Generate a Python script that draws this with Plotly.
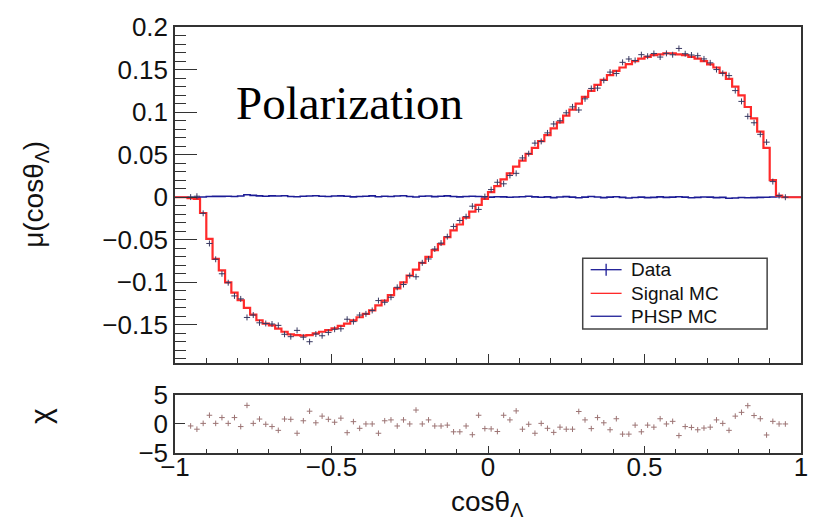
import numpy as np
import plotly.graph_objects as go

# ---------------- data ----------------
bin_centers = [round(-0.99 + 0.02 * i, 2) for i in range(100)]

signal_mc = [
    0.0, 0.0, -0.001, -0.002, -0.0185, -0.049, -0.0725, -0.086, -0.100, -0.112,
    -0.121, -0.130, -0.138, -0.1445, -0.1485, -0.1505, -0.1543, -0.158, -0.161, -0.162,
    -0.1625, -0.162, -0.160, -0.158, -0.156, -0.154, -0.151, -0.1485, -0.1447, -0.141,
    -0.137, -0.133, -0.127, -0.1215, -0.115, -0.107, -0.100, -0.092, -0.085, -0.077,
    -0.070, -0.062, -0.055, -0.047, -0.039, -0.032, -0.024, -0.017, -0.009, -0.002,
    0.006, 0.013, 0.021, 0.028, 0.036, 0.043, 0.051, 0.058, 0.066, 0.073,
    0.081, 0.088, 0.096, 0.103, 0.110, 0.118, 0.125, 0.132, 0.138, 0.1435,
    0.1485, 0.1524, 0.1563, 0.160, 0.1628, 0.165, 0.167, 0.1678, 0.169, 0.169,
    0.1678, 0.167, 0.165, 0.1628, 0.160, 0.156, 0.1524, 0.146, 0.139, 0.130,
    0.1196, 0.106, 0.0926, 0.077, 0.058, 0.020, 0.002, 0.0, 0.0, 0.0,
]

phsp_mc = [
    0.0, 0.0, 0.0, 0.0, 0.0003, 0.0008, 0.001, 0.001, 0.0012, 0.0009,
    0.0015, 0.003, 0.0022, 0.0016, 0.0012, 0.0016, 0.0014, 0.0018, 0.0009, 0.0006,
    0.0012, 0.0015, 0.0018, 0.0012, 0.0008, 0.0014, 0.0016, 0.0011, 0.0004, 0.0008,
    0.0012, 0.0016, 0.0006, 0.0012, 0.0009, 0.0015, 0.0018, 0.0008, 0.0003, 0.0011,
    0.0014, 0.0007, 0.0012, 0.0016, 0.0008, 0.0004, 0.0009, 0.0012, 0.0008, 0.0004,
    0.0002, 0.0006, 0.0004, 0.0, 0.0003, 0.0006, 0.0012, 0.0004, 0.0, 0.0004,
    -0.0004, 0.0003, 0.0007, 0.0001, -0.0006, 0.0002, 0.0008, 0.0003, -0.0004, 0.0002,
    0.0005, -0.0002, -0.0008, -0.0003, 0.0002, -0.0004, -0.0001, 0.0004, -0.0002, 0.0002,
    0.0006, 0.0002, -0.0006, -0.0001, 0.0003, 0.0001, -0.0005, -0.0002, -0.0012, -0.0008,
    -0.0003, -0.0006, -0.0004, -0.0002, 0.0, 0.0003, 0.0006, 0.0, 0.0, 0.0,
]

data_centers = bin_centers[2:98]
data_values = [
    0.0002, 0.0012, -0.0189, -0.0543, -0.0729, -0.0899, -0.1004, -0.1159, -0.1194, -0.1412,
    -0.1384, -0.1475, -0.1483, -0.1489, -0.1505, -0.161, -0.1638, -0.1564, -0.1644, -0.1697,
    -0.1607, -0.1627, -0.1588, -0.1551, -0.1545, -0.1433, -0.1461, -0.1384, -0.137, -0.133,
    -0.1214, -0.1234, -0.1175, -0.1058, -0.1025, -0.092, -0.0934, -0.077, -0.0725, -0.0608,
    -0.0538, -0.0463, -0.0343, -0.0273, -0.0228, -0.0105, -0.0143, 0.0008, 0.009, 0.0176,
    0.0158, 0.0256, 0.0281, 0.0462, 0.0512, 0.0636, 0.0656, 0.0756, 0.0861, 0.0899,
    0.0992, 0.1062, 0.1025, 0.1156, 0.1278, 0.1282, 0.1373, 0.147, 0.1454, 0.1585,
    0.1624, 0.1607, 0.1675, 0.1657, 0.1689, 0.1647, 0.169, 0.1674, 0.1748, 0.1686,
    0.1671, 0.1663, 0.1625, 0.1579, 0.15, 0.1456, 0.1429, 0.1253, 0.1126, 0.095,
    0.0875, 0.0739, 0.0647, 0.0184, 0.002, 0.0,
]
data_err = 0.0035

chi_values = [
    -0.34, -0.9, 0.1, 1.5, 0.1, 1.1, 0.1, 1.1, -0.45, 3.2,
    0.1, 0.85, -0.05, -0.45, -1.1, 0.85, 0.8, -1.6, 0.55, 2.2,
    0.2, 1.35, 0.8, 0.3, 1.0, -1.5, 0.4, -0.75, 0.0, 0.0,
    -1.6, 0.55, 0.7, -0.35, 0.7, 0.0, 2.4, 0.0, 0.7, -0.35,
    -0.35, -0.2, -1.35, -1.35, -0.35, -1.85, 1.5, -0.8, -0.85, -1.3,
    1.5, 0.7, 2.25, -0.9, -0.05, -1.6, 0.1, -0.75, -1.45, -0.55,
    -0.9, -0.9, 2.15, 0.7, -0.8, 1.1, 0.2, -1.0, 0.9, -1.75,
    -1.75, -0.2, -1.35, -0.2, -0.55, 0.9, 0.0, 0.45, -2.0, -0.45,
    -0.6, -1.0, -0.7, -0.55, 0.7, 0.1, -1.1, 1.35, 2.0, 3.15,
    1.45, 0.9, -1.9, 0.45, 0.0, 0.0,
]

x_ticks = [-1, -0.5, 0, 0.5, 1]
y_ticks_top = [-0.15, -0.1, -0.05, 0, 0.05, 0.1, 0.15, 0.2]
y_ticks_chi = [-5, 0, 5]

legend_labels = ["Data", "Signal MC", "PHSP MC"]

# ---------------- helpers ----------------
centers = np.array(bin_centers)
half = 0.01
edges = np.append(centers - half, centers[-1] + half)


def step_y(vals):
    v = np.array(vals)
    return np.append(v, v[-1])


FONT = "Liberation Sans, Arial, Helvetica, sans-serif"
AX = "#333333"
RED = "#ff2a2a"
BLUE = "#1c1c96"
DATA_COL = "#3a3a62"
CHI_COL = "#9c7474"

fig = go.Figure()

fig.add_trace(go.Scatter(
    x=edges, y=step_y(phsp_mc), mode="lines", line=dict(color=BLUE, width=1.6, shape="hv"),
    name="PHSP MC", showlegend=False, xaxis="x", yaxis="y"))
fig.add_trace(go.Scatter(
    x=edges, y=step_y(signal_mc), mode="lines", line=dict(color=RED, width=2.2, shape="hv"),
    name="Signal MC", showlegend=False, xaxis="x", yaxis="y"))
fig.add_trace(go.Scatter(
    x=data_centers, y=data_values, mode="markers",
    marker=dict(size=1, color=DATA_COL),
    error_x=dict(type="constant", value=half, thickness=1, width=0, color=DATA_COL),
    error_y=dict(type="constant", value=data_err, thickness=1, width=0, color=DATA_COL),
    name="Data", showlegend=False, xaxis="x", yaxis="y"))

# chi panel
fig.add_trace(go.Scatter(
    x=data_centers, y=chi_values, mode="markers",
    marker=dict(symbol="cross-thin", size=4, line=dict(color=CHI_COL, width=1)),
    showlegend=False, xaxis="x2", yaxis="y2"))

axis_common = dict(
    showline=True, linecolor=AX, linewidth=1.5, mirror=True,
    showgrid=False, zeroline=False,
    tickfont=dict(family=FONT, size=26, color="#111"),
    tickcolor=AX, ticks="inside",
)

# ---- manual legend box (paper coordinates) ----
lg_x0, lg_x1, lg_y0, lg_y1 = 0.6513, 0.9459, 0.291, 0.4573
row_y = [0.4303, 0.3748, 0.321]
sym_x0, sym_x1, sym_xc, txt_x = 0.664, 0.7134, 0.6887, 0.7245
legend_colors = [BLUE, RED, BLUE]

shapes = [dict(type="rect", xref="paper", yref="paper", x0=lg_x0, x1=lg_x1, y0=lg_y0, y1=lg_y1,
               line=dict(color="#444", width=1.5), fillcolor="white", layer="above")]
for ry, col in zip(row_y, legend_colors):
    shapes.append(dict(type="line", xref="paper", yref="paper", x0=sym_x0, x1=sym_x1, y0=ry, y1=ry,
                       line=dict(color=col, width=1.3), layer="above"))
shapes.append(dict(type="line", xref="paper", yref="paper", x0=sym_xc, x1=sym_xc,
                   y0=row_y[0] - 0.014, y1=row_y[0] + 0.014,
                   line=dict(color=BLUE, width=1.3), layer="above"))

annotations = [
    dict(text="Polarization", x=0.2787, y=0.822, xref="paper", yref="paper",
         xanchor="center", yanchor="middle", showarrow=False,
         font=dict(family="Liberation Serif, Times New Roman, serif", size=47, color="#000")),
    dict(text="μ(cosθ<sub>Λ</sub>)", x=-0.222, y=0.606, xref="paper", yref="paper",
         xanchor="center", yanchor="middle", showarrow=False, textangle=-90,
         font=dict(family=FONT, size=28, color="#111")),
    dict(text="χ", x=-0.215, y=0.0878, xref="paper", yref="paper",
         xanchor="center", yanchor="middle", showarrow=False, textangle=-90,
         font=dict(family=FONT, size=30, color="#111")),
    dict(text="cosθ<sub>Λ</sub>", x=0.498, y=-0.118, xref="paper", yref="paper",
         xanchor="center", yanchor="middle", showarrow=False,
         font=dict(family=FONT, size=28, color="#111")),
]
for ry, lab in zip(row_y, legend_labels):
    annotations.append(dict(text=lab, x=txt_x, y=ry, xref="paper", yref="paper",
                            xanchor="left", yanchor="middle", showarrow=False,
                            font=dict(family=FONT, size=19, color="#111")))

fig.update_layout(
    width=820, height=527,
    margin=dict(l=175, r=17, t=20, b=74),
    paper_bgcolor="white", plot_bgcolor="white",
    showlegend=False,
    xaxis=dict(domain=[0, 1], anchor="y", range=[-1, 1], tickvals=x_ticks,
               showticklabels=False, ticklen=9,
               minor=dict(dtick=0.1, tick0=0, ticklen=5, ticks="inside", tickcolor=AX),
               **axis_common),
    yaxis=dict(domain=[0.2113, 1], anchor="x", range=[-0.1947, 0.2], tickvals=y_ticks_top,
               ticklen=22,
               minor=dict(dtick=0.01, tick0=0, ticklen=11, ticks="inside", tickcolor=AX),
               **axis_common),
    xaxis2=dict(domain=[0, 1], anchor="y2", range=[-1, 1], tickvals=x_ticks,
                ticklen=7, ticklabelstandoff=-10,
                minor=dict(dtick=0.1, tick0=0, ticklen=4, ticks="inside", tickcolor=AX),
                **axis_common),
    yaxis2=dict(domain=[0, 0.1363], anchor="x2", range=[-5, 5], tickvals=y_ticks_chi,
                ticklen=10, **axis_common),
    shapes=shapes,
    annotations=annotations,
)

fig.write_html("out.html")
